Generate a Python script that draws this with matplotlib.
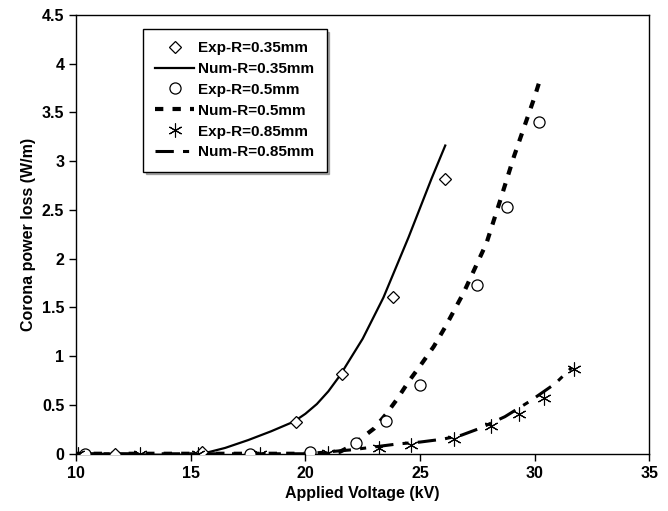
import matplotlib.pyplot as plt

plt.rcParams['font.family'] = ['Liberation Sans', 'DejaVu Sans']
plt.rcParams['font.weight'] = 'bold'

# experimental points
exp035_v = [11.7, 15.5, 19.6, 21.6, 23.8, 26.1]
exp035_p = [0.0, 0.02, 0.33, 0.82, 1.61, 2.82]

exp05_v = [10.4, 17.6, 20.2, 22.2, 23.5, 25.0, 27.5, 28.8, 30.2]
exp05_p = [0.0, 0.0, 0.02, 0.11, 0.34, 0.70, 1.73, 2.53, 3.40]

exp085_v = [10.1, 12.8, 15.3, 18.0, 21.0, 23.2, 24.6, 26.5, 28.1, 29.3, 30.4, 31.7]
exp085_p = [0.0, 0.0, 0.0, 0.0, 0.01, 0.06, 0.09, 0.15, 0.28, 0.41, 0.57, 0.87]

# numerical curves
num035_v = [10, 12, 13.5, 15, 15.5, 16.5, 17.5, 18.5, 19.5, 20.0, 20.5, 21.0, 21.5, 22.5, 23.4, 24.5, 25.5, 26.1]
num035_p = [0.0, 0.0, -0.01, -0.01, 0.0, 0.06, 0.14, 0.23, 0.33, 0.41, 0.51, 0.64, 0.80, 1.18, 1.60, 2.22, 2.82, 3.16]

num05_v = [10, 21, 21.5, 22, 22.5, 23, 23.5, 24, 24.5, 25, 25.6, 26.1, 26.9, 27.9, 28.5, 29.1, 30.0, 30.2]
num05_p = [0.0, 0.0, 0.02, 0.08, 0.17, 0.26, 0.40, 0.56, 0.74, 0.90, 1.10, 1.30, 1.65, 2.16, 2.60, 3.05, 3.66, 3.81]

num085_v = [10, 20, 21, 22, 23, 24, 25, 26, 26.8, 27.6, 28.7, 29.8, 30.9, 31.6]
num085_p = [0.0, 0.0, 0.02, 0.04, 0.07, 0.10, 0.12, 0.15, 0.19, 0.26, 0.38, 0.54, 0.72, 0.88]

fig = plt.figure(figsize=(6.68, 5.11), dpi=100)
ax = fig.add_axes([0.114, 0.112, 0.858, 0.859])

ax.plot(exp035_v, exp035_p, linestyle='none', marker='D', markersize=6,
        markerfacecolor='white', markeredgecolor='black', markeredgewidth=0.9,
        label='Exp-R=0.35mm', zorder=3)
ax.plot(num035_v, num035_p, color='black', linewidth=1.6, label='Num-R=0.35mm')
ax.plot(exp05_v, exp05_p, linestyle='none', marker='o', markersize=8,
        markerfacecolor='white', markeredgecolor='black', markeredgewidth=0.9,
        label='Exp-R=0.5mm', zorder=3)
ax.plot(num05_v, num05_p, color='black', linewidth=3, linestyle=(0, (2, 2.2)),
        label='Num-R=0.5mm')
ax.plot(exp085_v, exp085_p, linestyle='none', marker=(6, 2, 0), markersize=10,
        markeredgecolor='black', markeredgewidth=0.8,
        label='Exp-R=0.85mm', zorder=3)
ax.plot(num085_v, num085_p, color='black', linewidth=2.2, linestyle=(0, (6, 3, 2, 3)),
        label='Num-R=0.85mm')

ax.set_xlim(10, 35)
ax.set_ylim(0, 4.5)
ax.set_xticks([10, 15, 20, 25, 30, 35])
ax.set_yticks([0, 0.5, 1, 1.5, 2, 2.5, 3, 3.5, 4, 4.5])
ax.set_yticklabels(['0', '0.5', '1', '1.5', '2', '2.5', '3', '3.5', '4', '4.5'])
ax.tick_params(direction='out', length=5, width=1, labelsize=11.5)
for s in ax.spines.values():
    s.set_linewidth(1)

ax.set_xlabel('Applied Voltage (kV)', fontsize=11.5, fontweight='bold')
ax.set_ylabel('Corona power loss (W/m)', fontsize=11.5, fontweight='bold')

leg = ax.legend(loc='upper left', bbox_to_anchor=(0.117, 0.968), borderaxespad=0,
                fancybox=False, shadow={'color': '0.4', 'alpha': 0.5},
                edgecolor='black', framealpha=1,
                prop={'size': 11, 'weight': 'bold'}, handlelength=2.5,
                handletextpad=0.3, labelspacing=0.45, borderpad=0.8)
leg.get_frame().set_linewidth(1)

plt.savefig('out.png', dpi=100)
